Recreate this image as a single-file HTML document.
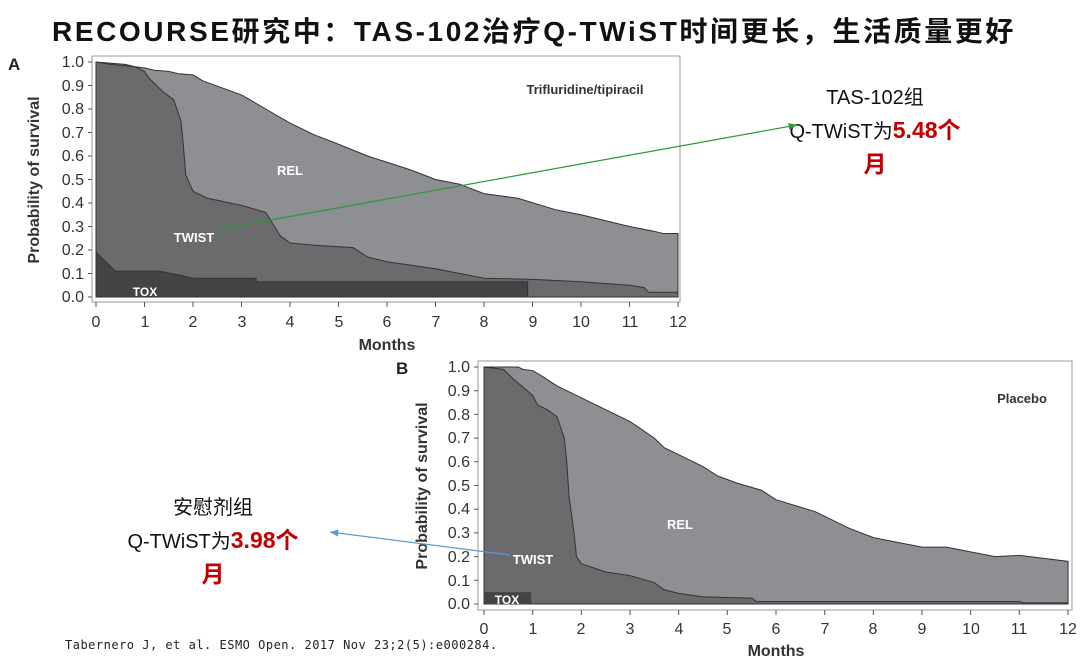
<!DOCTYPE html>
<html><head><meta charset="utf-8"><style>
body{margin:0;background:#fff;width:1080px;height:661px;overflow:hidden;position:relative;font-family:"Liberation Sans","Noto Sans CJK SC",sans-serif}
.t{position:absolute;white-space:nowrap}
</style></head><body>
<div class="t" style="left:52px;top:10px;font-size:28px;font-weight:bold;color:#111;letter-spacing:2.6px">RECOURSE研究中：TAS-102治疗Q-TWiST时间更长，生活质量更好</div>
<div class="t" style="left:765px;top:82px;width:220px;text-align:center;font-size:20px;line-height:32px;color:#111">TAS-102组<br>Q-TWiST为<b style="color:#c00000;font-size:23px">5.48个</b><br><b style="color:#c00000;font-size:23px">月</b></div>
<div class="t" style="left:103px;top:492px;width:220px;text-align:center;font-size:20px;line-height:32px;color:#111">安慰剂组<br>Q-TWiST为<b style="color:#c00000;font-size:23px">3.98个</b><br><b style="color:#c00000;font-size:23px">月</b></div>
<div class="t" style="left:65px;top:638px;font-size:12px;color:#222;font-family:'DejaVu Sans Mono',monospace;letter-spacing:0.5px">Tabernero J, et al. ESMO Open. 2017 Nov 23;2(5):e000284.</div>
<svg width="1080" height="661" style="position:absolute;left:0;top:0" font-family="Liberation Sans, sans-serif">
<defs><marker id="ag" markerWidth="8" markerHeight="8" refX="7" refY="4" orient="auto"><path d="M0,1 L7,4 L0,7z" fill="#2a9a3a"/></marker>
<marker id="ab" markerWidth="8" markerHeight="8" refX="7" refY="4" orient="auto"><path d="M0,1 L7,4 L0,7z" fill="#5a9ad8"/></marker></defs>
<!-- Chart A -->
<text x="8" y="70" font-size="17" font-weight="bold" fill="#222">A</text>
<rect x="92" y="56" width="588" height="246" fill="#fff" stroke="#999"/>
<g transform="translate(96,297) scale(48.5,-235)">
<path vector-effect="non-scaling-stroke" stroke="#333" fill="#8e8f93" d="M0,0 L0,1 L0.6,0.99 L0.8,0.98 L1,0.975 L1.2,0.965 L1.5,0.96 L1.7,0.95 L2,0.945 L2.2,0.92 L3,0.86 L3.5,0.8 L4,0.74 L4.5,0.69 L5,0.65 L5.6,0.6 L6.5,0.54 L7,0.5 L7.5,0.48 L8,0.44 L8.7,0.42 L9.5,0.37 L10,0.35 L11,0.3 L11.5,0.28 L11.7,0.27 L12,0.27 L12,0z"/>
<path vector-effect="non-scaling-stroke" stroke="#333" fill="#6b6b6d" d="M0,0 L0,1 L0.3,0.99 L0.8,0.98 L1,0.96 L1.1,0.93 L1.4,0.87 L1.6,0.84 L1.75,0.75 L1.8,0.65 L1.85,0.52 L2,0.45 L2.3,0.42 L3,0.39 L3.5,0.36 L3.8,0.26 L4,0.23 L4.5,0.22 L5.3,0.21 L5.6,0.17 L6,0.15 L7,0.12 L7.5,0.1 L8,0.08 L9,0.075 L10,0.065 L11,0.05 L11.3,0.04 L11.4,0.02 L12,0.02 L12,0z"/>
<path vector-effect="non-scaling-stroke" stroke="#333" fill="#444446" d="M0,0 L0,0.19 L0.2,0.15 L0.4,0.11 L1.3,0.11 L1.8,0.09 L2,0.08 L3.3,0.08 L3.3,0.065 L8.9,0.065 L8.9,0z"/>
</g>
<g stroke="#555" stroke-width="1">
<path d="M92,297h-4M92,273.5h-4M92,250h-4M92,226.5h-4M92,203h-4M92,179.5h-4M92,156h-4M92,132.5h-4M92,109h-4M92,85.5h-4M92,62h-4"/>
<path d="M96,302v5M144.5,302v5M193,302v5M241.5,302v5M290,302v5M338.5,302v5M387,302v5M435.5,302v5M484,302v5M532.5,302v5M581,302v5M629.5,302v5M678,302v5"/>
</g>
<g font-size="16" fill="#333" text-anchor="end">
<text x="84" y="302">0.0</text><text x="84" y="279">0.1</text><text x="84" y="255">0.2</text><text x="84" y="232">0.3</text><text x="84" y="208">0.4</text><text x="84" y="185">0.5</text><text x="84" y="161">0.6</text><text x="84" y="138">0.7</text><text x="84" y="114">0.8</text><text x="84" y="91">0.9</text><text x="84" y="67">1.0</text></g>
<g font-size="16" fill="#333" text-anchor="middle">
<text x="96" y="327">0</text><text x="145" y="327">1</text><text x="193" y="327">2</text><text x="242" y="327">3</text><text x="290" y="327">4</text><text x="339" y="327">5</text><text x="387" y="327">6</text><text x="436" y="327">7</text><text x="484" y="327">8</text><text x="533" y="327">9</text><text x="581" y="327">10</text><text x="630" y="327">11</text><text x="678" y="327">12</text></g>
<text x="387" y="350" font-size="16" font-weight="bold" fill="#333" text-anchor="middle">Months</text>
<text transform="translate(39,180) rotate(-90)" font-size="16" font-weight="bold" fill="#333" text-anchor="middle">Probability of survival</text>
<text x="585" y="94" font-size="13" font-weight="bold" fill="#333" text-anchor="middle">Trifluridine/tipiracil</text>
<text x="290" y="175" font-size="13" font-weight="bold" fill="#fff" text-anchor="middle">REL</text>
<text x="194" y="242" font-size="13" font-weight="bold" fill="#fff" text-anchor="middle">TWIST</text>
<text x="145" y="296" font-size="12" font-weight="bold" fill="#fff" text-anchor="middle">TOX</text>
<line x1="215" y1="230" x2="797" y2="125" stroke="#2a9a3a" stroke-width="1.2" marker-end="url(#ag)"/>
<!-- Chart B -->
<text x="396" y="374" font-size="17" font-weight="bold" fill="#222">B</text>
<rect x="478" y="361" width="594" height="249" fill="#fff" stroke="#999"/>
<g transform="translate(484,604) scale(48.67,-237)">
<path vector-effect="non-scaling-stroke" stroke="#333" fill="#8e8f93" d="M0,0 L0,1 L0.7,1 L0.8,0.99 L1,0.985 L1.2,0.96 L1.5,0.92 L2,0.87 L2.5,0.82 L3,0.77 L3.5,0.7 L3.7,0.66 L4,0.63 L4.5,0.58 L4.8,0.54 L5.2,0.51 L5.7,0.48 L6,0.44 L6.8,0.39 L7.5,0.32 L8,0.28 L8.5,0.26 L9,0.24 L9.5,0.24 L10,0.22 L10.5,0.2 L11,0.205 L12,0.18 L12,0z"/>
<path vector-effect="non-scaling-stroke" stroke="#333" fill="#6b6b6d" d="M0,0 L0,1 L0.4,0.99 L0.6,0.95 L1,0.88 L1.1,0.84 L1.3,0.82 L1.5,0.79 L1.65,0.7 L1.7,0.6 L1.75,0.45 L1.85,0.3 L1.9,0.2 L2,0.17 L2.5,0.135 L3,0.12 L3.5,0.09 L3.7,0.06 L4,0.045 L4.5,0.03 L5.5,0.025 L5.6,0.01 L11,0.01 L11.1,0.005 L12,0.005 L12,0z"/>
<rect x="0" y="0" width="0.97" height="0.05" fill="#444446"/>
</g>
<g stroke="#555" stroke-width="1">
<path d="M478,604h-4M478,580.3h-4M478,556.6h-4M478,532.9h-4M478,509.2h-4M478,485.5h-4M478,461.8h-4M478,438.1h-4M478,414.4h-4M478,390.7h-4M478,367h-4"/>
<path d="M484,610v5M532.7,610v5M581.3,610v5M630,610v5M678.7,610v5M727.3,610v5M776,610v5M824.7,610v5M873.3,610v5M922,610v5M970.7,610v5M1019.3,610v5M1068,610v5"/>
</g>
<g font-size="16" fill="#333" text-anchor="end">
<text x="470" y="609">0.0</text><text x="470" y="586">0.1</text><text x="470" y="562">0.2</text><text x="470" y="538">0.3</text><text x="470" y="514">0.4</text><text x="470" y="491">0.5</text><text x="470" y="467">0.6</text><text x="470" y="443">0.7</text><text x="470" y="420">0.8</text><text x="470" y="396">0.9</text><text x="470" y="372">1.0</text></g>
<g font-size="16" fill="#333" text-anchor="middle">
<text x="484" y="634">0</text><text x="533" y="634">1</text><text x="581" y="634">2</text><text x="630" y="634">3</text><text x="679" y="634">4</text><text x="727" y="634">5</text><text x="776" y="634">6</text><text x="825" y="634">7</text><text x="873" y="634">8</text><text x="922" y="634">9</text><text x="971" y="634">10</text><text x="1019" y="634">11</text><text x="1068" y="634">12</text></g>
<text x="776" y="656" font-size="16" font-weight="bold" fill="#333" text-anchor="middle">Months</text>
<text transform="translate(427,486) rotate(-90)" font-size="16" font-weight="bold" fill="#333" text-anchor="middle">Probability of survival</text>
<text x="1022" y="403" font-size="13" font-weight="bold" fill="#333" text-anchor="middle">Placebo</text>
<text x="680" y="529" font-size="13" font-weight="bold" fill="#fff" text-anchor="middle">REL</text>
<text x="533" y="564" font-size="13" font-weight="bold" fill="#fff" text-anchor="middle">TWIST</text>
<text x="507" y="604" font-size="12" font-weight="bold" fill="#fff" text-anchor="middle">TOX</text>
<line x1="510" y1="555" x2="330" y2="532" stroke="#5a9ad8" stroke-width="1.2" marker-end="url(#ab)"/>
</svg>
</body></html>
